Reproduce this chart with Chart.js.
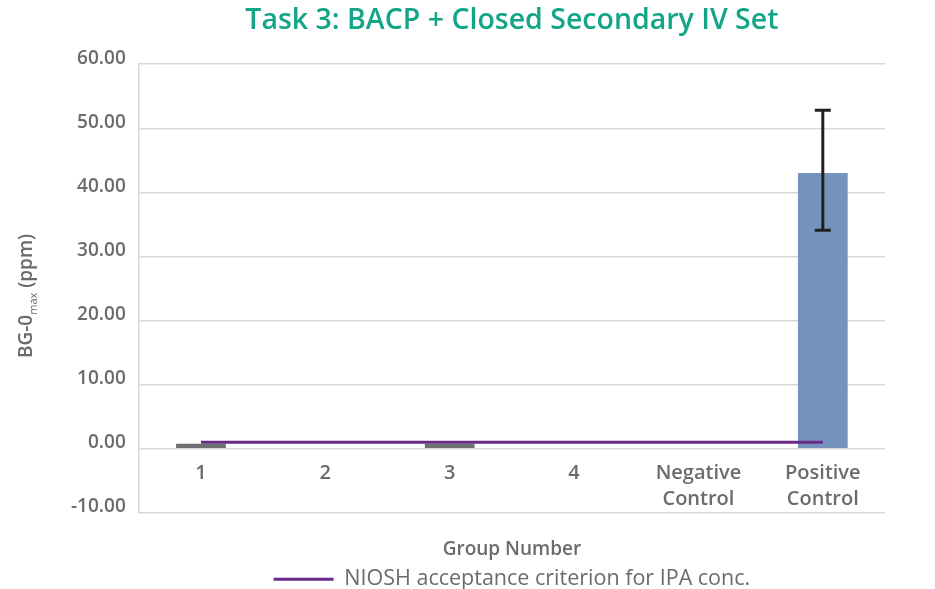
<!DOCTYPE html>
<html>
<head>
<meta charset="utf-8">
<script src="https://cdn.jsdelivr.net/npm/chart.js@4.4.1/dist/chart.umd.min.js"></script>
<style>
html,body{margin:0;padding:0;background:#fff;}
#wrap{width:935px;height:589px;}
</style>
</head>
<body>
<div id="wrap"><canvas id="c" width="935" height="589"></canvas></div>
<script>
const categories = [["1"], ["2"], ["3"], ["4"], ["Negative", "Control"], ["Positive", "Control"]];
const meanValues = [0.75, 0, 0.75, 0, 0, 43.0];
const errUpper = [null, null, null, null, null, 52.8];
const errLower = [null, null, null, null, null, 34.1];
const nioshLimit = [1.0, 1.0, 1.0, 1.0, 1.0, 1.0];
const barColors = ["#6f6f71", "#6f6f71", "#6f6f71", "#6f6f71", "#6f6f71", "#7594bd"];

const FONT = "'Open Sans', 'Noto Sans', sans-serif";
const GRAY = "#6b6b6d";

const errorBarPlugin = {
  id: 'errorBars',
  afterDatasetsDraw(chart) {
    const ctx = chart.ctx;
    const meta = chart.getDatasetMeta(0);
    const y = chart.scales.y;
    ctx.save();
    ctx.strokeStyle = "#231f20";
    ctx.lineWidth = 3;
    meta.data.forEach((bar, i) => {
      if (errUpper[i] == null) return;
      const x = bar.x;
      const yt = y.getPixelForValue(errUpper[i]);
      const yb = y.getPixelForValue(errLower[i]);
      ctx.beginPath();
      ctx.moveTo(x, yt); ctx.lineTo(x, yb);
      ctx.moveTo(x - 8, yt); ctx.lineTo(x + 8, yt);
      ctx.moveTo(x - 8, yb); ctx.lineTo(x + 8, yb);
      ctx.stroke();
    });
    ctx.restore();
  }
};

const yTitlePlugin = {
  id: 'yTitle',
  afterDraw(chart) {
    const ctx = chart.ctx;
    ctx.save();
    const big = "600 19px " + FONT;
    const small = "11px " + FONT;
    ctx.font = big; const w1 = ctx.measureText("BG-0").width;
    ctx.font = small; const w2 = ctx.measureText("max").width;
    ctx.font = big; const w3 = ctx.measureText(" (ppm)").width;
    const total = w1 + w2 + w3;
    const cx = 27, cy = 296;
    ctx.translate(cx, cy);
    ctx.rotate(-Math.PI / 2);
    ctx.fillStyle = GRAY;
    ctx.textBaseline = 'middle';
    ctx.textAlign = 'left';
    let x = -total / 2;
    ctx.font = big; ctx.fillText("BG-0", x, 0); x += w1;
    ctx.font = small; ctx.fillText("max", x, 7); x += w2;
    ctx.font = big; ctx.fillText(" (ppm)", x, 0);
    ctx.restore();
  }
};

new Chart(document.getElementById('c'), {
  data: {
    labels: categories,
    datasets: [
      {
        type: 'bar',
        label: 'BG-0max',
        data: meanValues,
        backgroundColor: barColors,
        barPercentage: 0.4,
        categoryPercentage: 1.0,
        order: 2
      },
      {
        type: 'line',
        label: 'NIOSH acceptance criterion for IPA conc.',
        data: nioshLimit,
        borderColor: '#672a87',
        backgroundColor: '#672a87',
        borderWidth: 3,
        pointRadius: 0,
        order: 1
      }
    ]
  },
  options: {
    responsive: false,
    animation: false,
    layout: { padding: { left: 58, right: 50, top: 0, bottom: -11 } },
    plugins: {
      title: {
        display: true,
        fullSize: false,
        text: 'Task 3: BACP + Closed Secondary IV Set',
        color: '#13a587',
        font: { family: FONT, size: 28.5, weight: '600' },
        padding: { top: 4, bottom: 26 }
      },
      subtitle: {
        display: true,
        position: 'bottom',
        fullSize: false,
        text: 'Group Number',
        color: GRAY,
        font: { family: FONT, size: 19, weight: '600' },
        padding: { top: 25, bottom: 4 },
        weight: 500
      },
      legend: {
        position: 'bottom',
        fullSize: false,
        weight: 3000,
        labels: {
          filter: (item) => item.datasetIndex === 1,
          generateLabels: (chart) => {
            const items = Chart.defaults.plugins.legend.labels.generateLabels(chart);
            return items.map(it => Object.assign(it, { lineWidth: 0, strokeStyle: 'rgba(0,0,0,0)' }));
          },
          boxWidth: 60,
          boxHeight: 3,
          color: GRAY,
          padding: 4,
          font: { family: FONT, size: 21.5 }
        }
      },
      tooltip: { enabled: false }
    },
    scales: {
      x: {
        position: { y: 0 },
        grid: { display: false },
        border: { display: false },
        ticks: {
          color: GRAY,
          font: { family: FONT, size: 20, weight: '600', lineHeight: 1.3 },
          padding: 4,
          maxRotation: 0
        }
      },
      y: {
        min: -10,
        max: 60,
        ticks: {
          stepSize: 10,
          color: GRAY,
          font: { family: FONT, size: 19, weight: '600' },
          padding: 13,
          labelOffset: -6,
          callback: (v) => Number(v).toFixed(2)
        },
        grid: { color: '#d9d9d9', lineWidth: 1.5, drawTicks: false },
        border: { display: true, color: '#d9d9d9', width: 1.5 }
      }
    }
  },
  plugins: [errorBarPlugin, yTitlePlugin]
});
</script>
</body>
</html>
